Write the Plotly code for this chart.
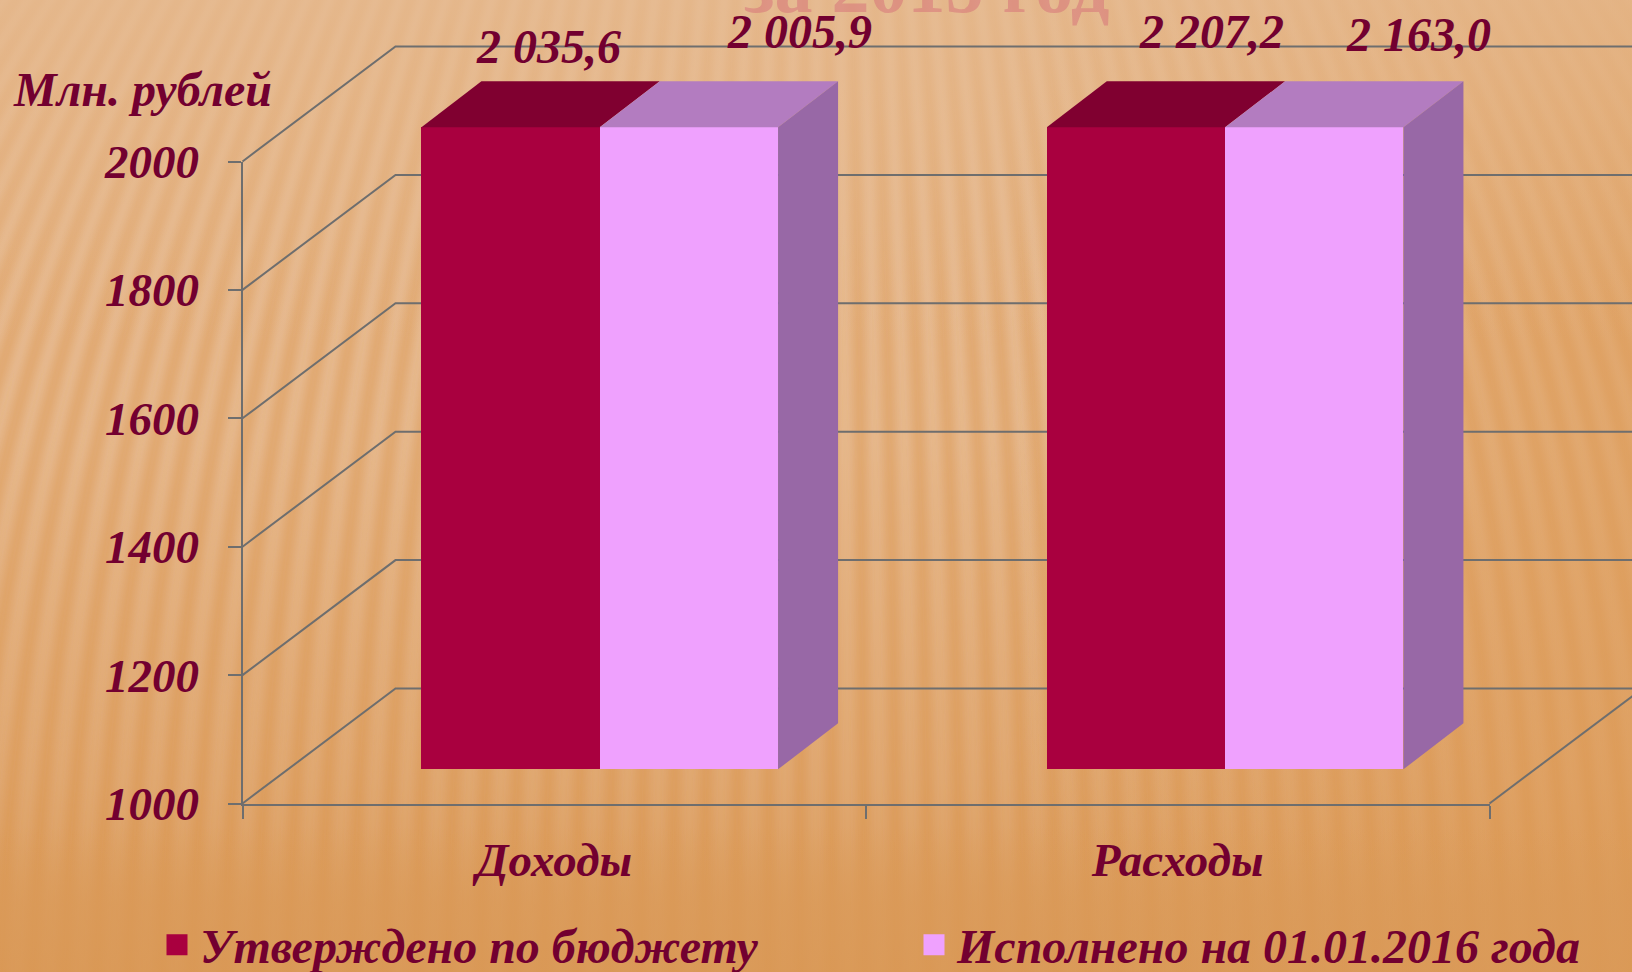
import base64
import plotly.graph_objects as go

# ---- data ----
categories = ["Доходы", "Расходы"]
category_pos = [0.5, 1.503]
series_names = ["Утверждено по бюджету", "Исполнено на 01.01.2016 года"]
approved = [2035.6, 2207.2]
executed = [2005.9, 2163.0]
y_ticks = [1000, 1200, 1400, 1600, 1800, 2000]
label_dx = [[38, 111], [76, 104]]   # label offset from bar centre, px
label_dy = [[81, 96], [96, 93]]     # label offset above bar top, px

# ---- styles ----
W, H = 1632, 972
L, R, T, B = 242.5, 1489.5, 161.5, 803.5
TEXT = "#720030"
GRID = "#6E6E6E"
FONT = "Liberation Serif"
C_FRONT = ["#A9003F", "#EFA1FE"]
C_TOP = ["#800030", "#B37CC0"]
C_SIDE = ["#7A002C", "#9868A6"]
Y_MIN, Y_MAX = 1000, 2000
PX_X = (R - L) / 2
PX_Y = (B - T) / (Y_MAX - Y_MIN)
WALL_DX, WALL_DY = 153 / PX_X, 115 / PX_Y
BAR_SX, BAR_SY = 45.5 / PX_X, 34.2 / PX_Y
BAR_DX, BAR_DY = 60 / PX_X, 46 / PX_Y
BAR_W = 0.286
# same scale as the visible axes, stretched over the whole figure
FULL_X = [-L / PX_X, (W - L) / PX_X]
FULL_Y = [Y_MIN - (H - B) / PX_Y, Y_MIN + B / PX_Y]


def background_uri():
    cx = 820
    paths = []
    for i in range(-50, 110):
        xb = i * 32
        top = cx + (xb - cx) * 0.72
        mid = cx + (xb - cx) * 0.98
        paths.append(f'<path d="M{top:.1f},-10 Q{mid:.1f},420 {xb:.1f},{H+10}"/>')
    svg = f'''<svg xmlns="http://www.w3.org/2000/svg" width="{W}" height="{H}" viewBox="0 0 {W} {H}">
<defs>
<linearGradient id="g" x1="0" y1="0" x2="0" y2="1">
<stop offset="0" stop-color="#E8BE97"/><stop offset="0.45" stop-color="#E6B88D"/>
<stop offset="0.8" stop-color="#E0A872"/><stop offset="1" stop-color="#DA9A59"/></linearGradient>
<linearGradient id="h" x1="0" y1="0" x2="1" y2="0">
<stop offset="0.62" stop-color="#DD9A55" stop-opacity="0"/><stop offset="1" stop-color="#DD9A55" stop-opacity="0.55"/></linearGradient>
<linearGradient id="f" x1="0" y1="0" x2="0" y2="1">
<stop offset="0" stop-color="#E6BC94" stop-opacity="0.65"/><stop offset="0.35" stop-color="#E6BC94" stop-opacity="0"/>
<stop offset="0.85" stop-color="#DA9A59" stop-opacity="0"/><stop offset="0.93" stop-color="#DA9A59" stop-opacity="0.65"/></linearGradient>
<filter id="b" x="-5%" y="-5%" width="110%" height="110%"><feGaussianBlur stdDeviation="4"/></filter>
</defs>
<rect width="{W}" height="{H}" fill="url(#g)"/>
<g filter="url(#b)" fill="none" stroke="#D88E42" stroke-opacity="0.38" stroke-width="14">{''.join(paths)}</g>
<rect width="{W}" height="{H}" fill="url(#h)"/>
<rect width="{W}" height="{H}" fill="url(#f)"/>
</svg>'''
    return "data:image/svg+xml;base64," + base64.b64encode(svg.encode()).decode()


fig = go.Figure()

# legend entries (they also keep the visible axes alive)
for s in range(2):
    fig.add_trace(go.Scatter(
        x=[None], y=[None], mode="markers", name=series_names[s],
        marker=dict(symbol="square", size=16, color=C_FRONT[s],
                    line=dict(color=C_FRONT[s], width=5))))

# back wall and floor
for v in y_ticks:
    fig.add_trace(go.Scatter(
        x=[0, WALL_DX, 2 + WALL_DX], y=[v, v + WALL_DY, v + WALL_DY],
        mode="lines", line=dict(color=GRID, width=2), xaxis="x2", yaxis="y2",
        showlegend=False, hoverinfo="skip"))
fig.add_trace(go.Scatter(
    x=[2, 2 + WALL_DX], y=[Y_MIN, Y_MIN + WALL_DY],
    mode="lines", line=dict(color=GRID, width=2), xaxis="x2", yaxis="y2",
    showlegend=False, hoverinfo="skip"))

# bars, on an overlaying pair of axes so that they sit above the wall
annotations = []
for s, values in enumerate([approved, executed]):
    tops = [min(v, Y_MAX) for v in values]
    centres = [p + (s - 0.5) * BAR_W + BAR_SX for p in category_pos]
    fig.add_trace(go.Bar(
        x=centres, y=[t - Y_MIN for t in tops], base=Y_MIN + BAR_SY, width=BAR_W,
        marker=dict(color=C_FRONT[s], line=dict(width=0)),
        xaxis="x3", yaxis="y3", showlegend=False, name=series_names[s],
        customdata=values, hovertemplate="%{customdata}<extra></extra>"))
    for i, (c, t) in enumerate(zip(centres, tops)):
        x0, x1 = c - BAR_W / 2, c + BAR_W / 2
        y1 = t + BAR_SY
        fig.add_trace(go.Scatter(
            x=[x0, x1, x1 + BAR_DX, x0 + BAR_DX, x0],
            y=[y1, y1, y1 + BAR_DY, y1 + BAR_DY, y1],
            mode="lines", fill="toself", fillcolor=C_TOP[s], line=dict(width=0),
            xaxis="x3", yaxis="y3", showlegend=False, hoverinfo="skip"))
        if s == 1:
            y0 = Y_MIN + BAR_SY
            fig.add_trace(go.Scatter(
                x=[x1, x1 + BAR_DX, x1 + BAR_DX, x1, x1],
                y=[y0, y0 + BAR_DY, y1 + BAR_DY, y1, y0],
                mode="lines", fill="toself", fillcolor=C_SIDE[s], line=dict(width=0),
                xaxis="x3", yaxis="y3", showlegend=False, hoverinfo="skip"))
        label = f"{values[i]:,.1f}".replace(",", " ").replace(".", ",")
        annotations.append(dict(
            x=c, y=y1, xref="x3", yref="y3", text=f"<b><i>{label}</i></b>", showarrow=False,
            xshift=label_dx[i][s], yshift=label_dy[i][s],
            font=dict(family=FONT, size=48, color=TEXT)))

annotations.append(dict(
    x=11 / W, y=1 - 90 / H, xref="paper", yref="paper",
    text="<b><i>Млн. рублей</i></b>",
    showarrow=False, xanchor="left", yanchor="middle",
    font=dict(family=FONT, size=48, color=TEXT)))
annotations.append(dict(
    x=926 / W, y=1 - 30 / H, xref="paper", yref="paper",
    text="<b>за 2015 год</b>", showarrow=False, yanchor="bottom", xanchor="center",
    font=dict(family=FONT, size=76, color="rgba(214,110,120,0.5)")))

tick_font = dict(family=FONT, size=47, color=TEXT, weight="bold", style="italic")
hidden = dict(visible=False, showgrid=False, zeroline=False, fixedrange=True)
fig.update_layout(
    width=W, height=H, autosize=False,
    margin=dict(l=0, r=0, t=0, b=0, pad=0, autoexpand=False),
    paper_bgcolor="#E5B487", plot_bgcolor="rgba(0,0,0,0)",
    bargap=0, barmode="overlay", hovermode=False,
    xaxis=dict(domain=[L / W, R / W], range=[0, 2], tickmode="array", tickvals=[0.5, 1.5],
               ticktext=categories, ticks="", showgrid=False, zeroline=False,
               showline=True, linecolor=GRID, linewidth=2.4,
               tickfont=tick_font, ticklabelstandoff=14, automargin=False,
               minor=dict(tickmode="array", tickvals=[0, 1, 2], ticks="outside", ticklen=13,
                          tickwidth=2, tickcolor=GRID, showgrid=False)),
    yaxis=dict(domain=[1 - B / H, 1 - T / H], range=[Y_MIN, Y_MAX], tickmode="array",
               tickvals=y_ticks, ticks="outside", ticklen=13, tickwidth=2, tickcolor=GRID,
               showgrid=False, zeroline=False, showline=True, linecolor=GRID, linewidth=2,
               tickfont=tick_font, ticklabelstandoff=19, automargin=False),
    xaxis2=dict(domain=[0, 1], range=FULL_X, anchor="y2", **hidden),
    yaxis2=dict(domain=[0, 1], range=FULL_Y, anchor="x2", **hidden),
    xaxis3=dict(range=FULL_X, overlaying="x2", anchor="y3", **hidden),
    yaxis3=dict(range=FULL_Y, overlaying="y2", anchor="x3", **hidden),
    showlegend=True,
    legend=dict(orientation="h", x=154 / W, y=1 - 907 / H, xanchor="left", yanchor="top",
                bgcolor="rgba(0,0,0,0)", entrywidth=706, entrywidthmode="pixels", itemwidth=36,
                itemclick=False, itemdoubleclick=False,
                font=dict(family=FONT, size=48, color=TEXT, weight="bold", style="italic")),
    annotations=annotations,
    images=[dict(source=background_uri(), xref="paper", yref="paper",
                 x=0, y=1, sizex=1, sizey=1,
                 xanchor="left", yanchor="top", sizing="stretch", layer="below")],
)

fig.write_html("out.html", config=dict(displayModeBar=False),
               post_script="document.body.style.margin='0';document.body.style.overflow='hidden';")
